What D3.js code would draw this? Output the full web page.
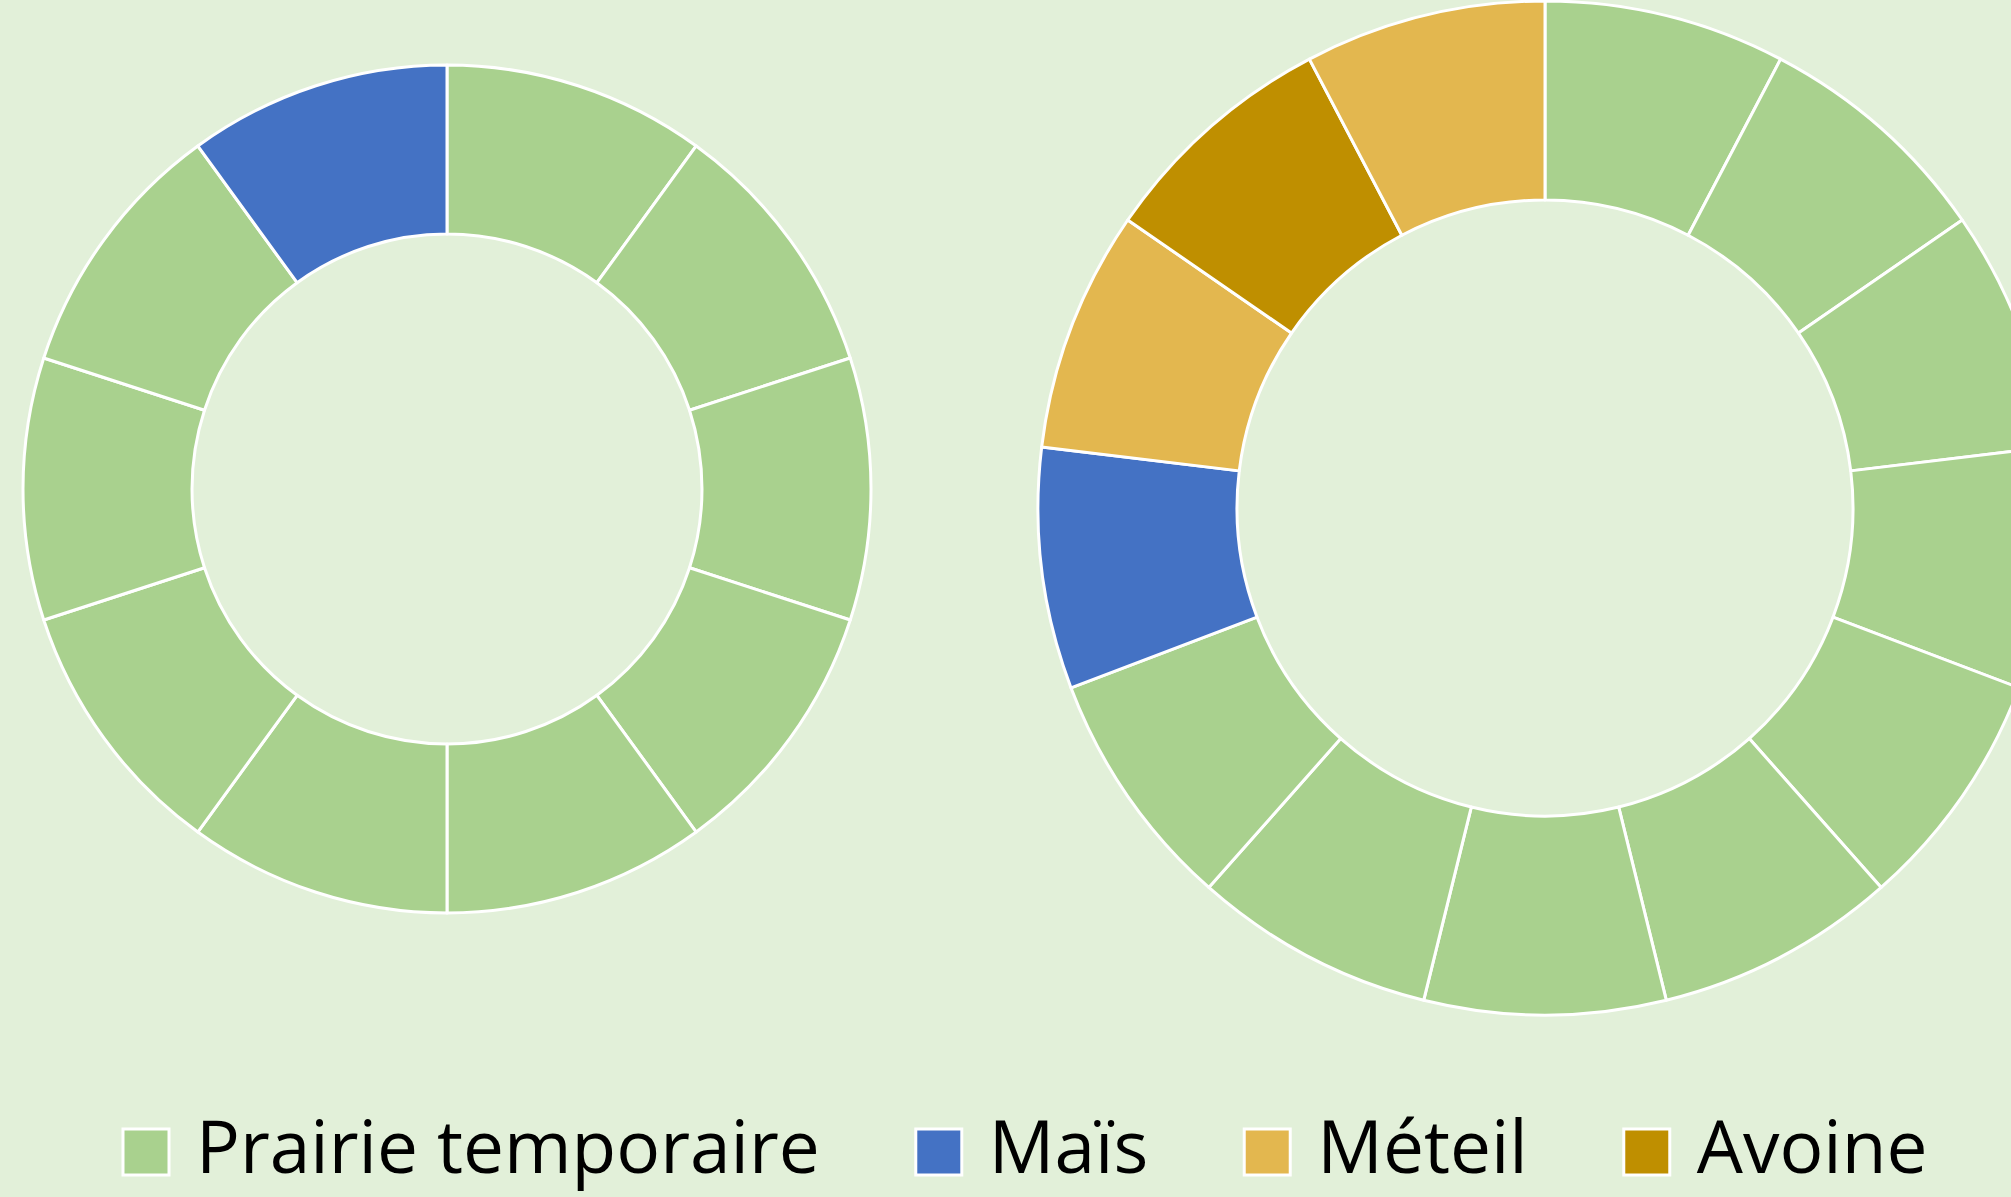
<html>
<head>
<meta charset="UTF-8">
<script src="https://d3js.org/d3.v7.min.js"></script>
<style>
    body { margin: 0; background: #E2F0D9; overflow: hidden; }
    svg { display: block; }
    text { font-family: 'Open Sans', 'Noto Sans', sans-serif; fill: #000; }
</style>
</head>
<body>
<div id="chart"></div>
<script>
    // categories and colours
    var categories = ["Prairie temporaire", "Maïs", "Méteil", "Avoine"];
    var colors = ["#A9D18E", "#4472C4", "#E3B74F", "#BF8F00"];

    // left donut: one entry per slice (crop of each plot), equal shares
    var leftCrops = ["Prairie temporaire", "Prairie temporaire", "Prairie temporaire",
                     "Prairie temporaire", "Prairie temporaire", "Prairie temporaire",
                     "Prairie temporaire", "Prairie temporaire", "Prairie temporaire", "Maïs"];
    var leftValues = [1, 1, 1, 1, 1, 1, 1, 1, 1, 1];

    // right donut
    var rightCrops = ["Prairie temporaire", "Prairie temporaire", "Prairie temporaire",
                      "Prairie temporaire", "Prairie temporaire", "Prairie temporaire",
                      "Prairie temporaire", "Prairie temporaire", "Prairie temporaire",
                      "Maïs", "Méteil", "Avoine", "Méteil"];
    var rightValues = [1, 1, 1, 1, 1, 1, 1, 1, 1, 1, 1, 1, 1];

    var width = 2011, height = 1197;

    var color = d3.scaleOrdinal().domain(categories).range(colors);

    var svg = d3.select('#chart')
        .append('svg')
        .attr('width', width)
        .attr('height', height);

    function drawDonut(crops, values, cx, cy, outer, inner) {
        var data = crops.map(function(c, i) { return { crop: c, value: values[i] }; });
        var pie = d3.pie().value(function(d) { return d.value; }).sort(null);
        var arc = d3.arc().innerRadius(inner).outerRadius(outer);
        var g = svg.append('g').attr('transform', 'translate(' + cx + ',' + cy + ')');
        g.selectAll('path')
            .data(pie(data))
            .enter()
            .append('path')
            .attr('d', arc)
            .attr('fill', function(d) { return color(d.data.crop); })
            .attr('stroke', '#fff')
            .attr('stroke-width', 3)
            .attr('stroke-linejoin', 'round');
    }

    drawDonut(leftCrops, leftValues, 447, 489, 424, 255);
    drawDonut(rightCrops, rightValues, 1545, 508, 507, 308);

    // legend
    var legend = svg.append('g');
    var x = 123, boxSize = 46, boxMid = 1152, baseline = 1173;
    categories.forEach(function(c, i) {
        legend.append('rect')
            .attr('x', x).attr('y', boxMid - boxSize / 2)
            .attr('width', boxSize).attr('height', boxSize)
            .attr('fill', colors[i])
            .attr('stroke', '#fff').attr('stroke-width', 3);
        var t = legend.append('text')
            .attr('x', x + boxSize + 27)
            .attr('y', baseline)
            .style('font-size', '73px')
            .text(c);
        x = x + boxSize + 27 + t.node().getComputedTextLength() + 96;
    });
</script>
</body>
</html>
